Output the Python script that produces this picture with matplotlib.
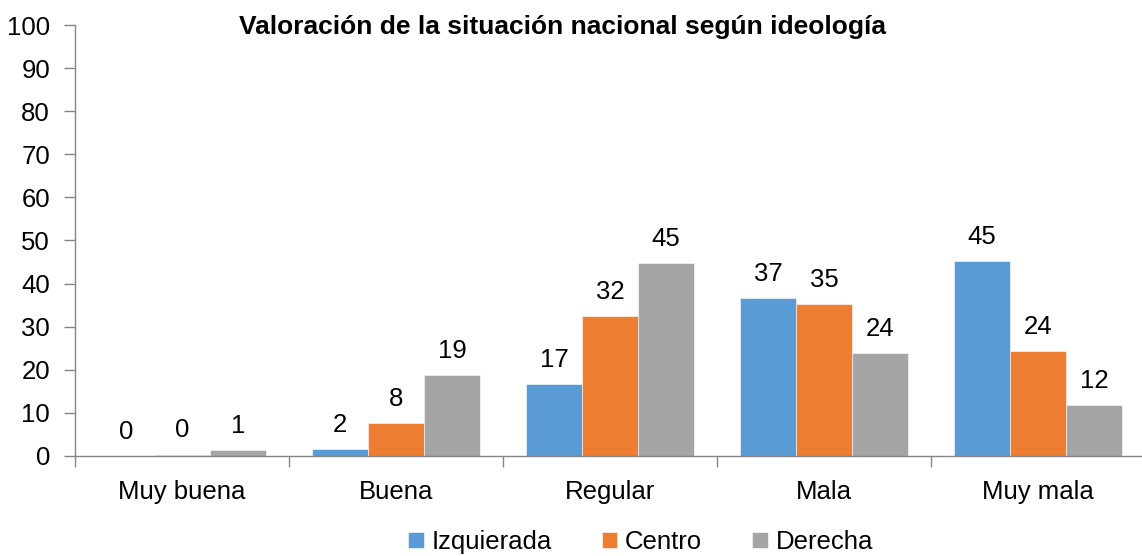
import numpy as np
import matplotlib.pyplot as plt
from matplotlib.ticker import FixedLocator

plt.rcParams['font.family'] = ['Liberation Sans', 'DejaVu Sans']

categorias = ['Muy buena', 'Buena', 'Regular', 'Mala', 'Muy mala']
izquierda = [0.0, 1.6, 16.7, 36.7, 45.2]
centro = [0.3, 7.7, 32.5, 35.3, 24.4]
derecha = [1.3, 18.8, 44.8, 23.9, 11.8]
series = ['Izquierada', 'Centro', 'Derecha']
colores = ['#5B9BD5', '#ED7D31', '#A5A5A5']

fig = plt.figure(figsize=(11.42, 5.56), dpi=100)
ax = fig.add_axes([0.0657, 0.18, 0.937, 0.775])

x = np.arange(len(categorias))
ancho = 0.262
for i, (vals, nombre, col) in enumerate(zip([izquierda, centro, derecha], series, colores)):
    pos = x + (i - 1) * ancho
    ax.bar(pos, vals, ancho, color=col, label=nombre, edgecolor='white', linewidth=0.4)
    for p, v in zip(pos, vals):
        ax.text(p, v + 4.0, '%.0f' % v, ha='center', va='baseline', fontsize=18.5)

ax.set_xlim(-0.5, 4.5)
ax.set_ylim(0, 100)
ax.set_yticks(range(0, 101, 10))
ax.set_xticks(x)
ax.set_xticklabels(categorias)
ax.xaxis.set_minor_locator(FixedLocator(np.arange(-0.5, 5.0, 1.0)))
ax.tick_params(axis='x', which='major', length=0, labelsize=18.5, pad=17)
ax.tick_params(axis='x', which='minor', length=8, color='#868686', width=1)
ax.tick_params(axis='y', length=8, color='#868686', width=1, labelsize=18.5, pad=10)

for s in ['top', 'right']:
    ax.spines[s].set_visible(False)
for s in ['left', 'bottom']:
    ax.spines[s].set_color('#868686')
    ax.spines[s].set_linewidth(1)

ax.text(0.456, 0.995, 'Valoración de la situación nacional según ideología', fontsize=19,
        fontweight='bold', ha='center', va='center', transform=ax.transAxes)

fig.legend(loc='center', bbox_to_anchor=(0.561, 0.025), ncol=3, frameon=False,
           fontsize=18.5, handlelength=0.6, handleheight=0.6, handletextpad=0.3,
           columnspacing=1.95)

fig.savefig('out.png', dpi=100)
